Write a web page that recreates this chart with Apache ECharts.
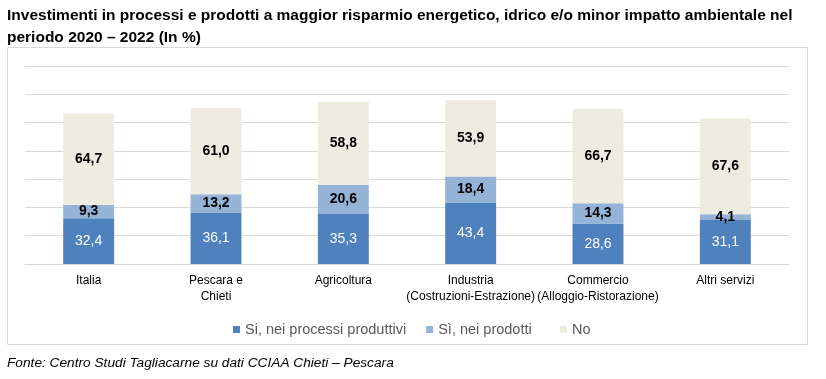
<!DOCTYPE html>
<html><head><meta charset="utf-8">
<script src="https://cdn.jsdelivr.net/npm/echarts@6/dist/echarts.min.js"></script>
<style>html,body{margin:0;padding:0;background:#fff}#c{width:826px;height:379px}</style>
</head><body><div id="c"></div>
<script>
const categories = ["Italia", "Pescara e\nChieti", "Agricoltura", "Industria\n(Costruzioni-Estrazione)", "Commercio\n(Alloggio-Ristorazione)", "Altri servizi"];
const seriesNames = ["Si, nei processi produttivi", "Sì, nei prodotti", "No"];
const processi = [32.4, 36.1, 35.3, 43.4, 28.6, 31.1];
const prodotti = [9.3, 13.2, 20.6, 18.4, 14.3, 4.1];
const no = [64.7, 61.0, 58.8, 53.9, 66.7, 67.6];
const colors = ["#4F81BD", "#95B3D7", "#EEECE1"];
const titleText = "Investimenti in processi e prodotti a maggior risparmio energetico, idrico e/o minor impatto ambientale nel\nperiodo 2020 – 2022 (In %)";
const sourceText = "Fonte: Centro Studi Tagliacarne su dati CCIAA Chieti – Pescara";

const FONT = "'Liberation Sans', sans-serif";
const fmt = p => p.value.toFixed(1).replace('.', ',');
function mk(name, data, color, labelColor, bold) {
  return {
    name, type: 'bar', stack: 'a', data, barWidth: '40%',
    itemStyle: { color },
    label: { show: true, position: 'inside', formatter: fmt, color: labelColor,
      fontSize: 14, fontWeight: bold ? 'bold' : 'normal', fontFamily: FONT }
  };
}
const legendBase = { top: 317, icon: 'rect', itemWidth: 7, itemHeight: 7, itemGap: 20,
  textStyle: { fontSize: 14.5, color: '#595959', fontFamily: FONT } };
const chart = echarts.init(document.getElementById('c'), null, { renderer: 'canvas' });
chart.setOption({
  animation: false,
  textStyle: { fontFamily: FONT },
  title: {
    text: titleText, left: 7, top: 5, padding: 0,
    textStyle: { fontSize: 15.5, fontWeight: 'bold', color: '#000', lineHeight: 22, fontFamily: FONT }
  },
  graphic: [
    { type: 'rect', shape: { x: 7.5, y: 47.5, width: 800, height: 297 },
      style: { fill: 'none', stroke: '#D9D9D9', lineWidth: 1 }, z: -1 },
    { type: 'text', left: 7, top: 356,
      style: { text: sourceText, fontSize: 13.7, fontStyle: 'italic', fill: '#000', fontFamily: FONT } }
  ],
  legend: [
    Object.assign({ data: seriesNames.slice(0, 2), left: 228 }, legendBase),
    Object.assign({ data: seriesNames.slice(2), left: 555 }, legendBase)
  ],
  grid: { left: 25, right: 37, top: 66, bottom: 115 },
  xAxis: {
    type: 'category', data: categories,
    axisLine: { lineStyle: { color: '#D9D9D9' } }, axisTick: { show: false },
    axisLabel: { color: '#000', fontSize: 12, lineHeight: 16, margin: 9, interval: 0, fontFamily: FONT }
  },
  yAxis: {
    type: 'value', min: 0, max: 140, interval: 20,
    axisLabel: { show: false }, axisLine: { show: false }, axisTick: { show: false },
    splitLine: { lineStyle: { color: '#D9D9D9' } }
  },
  series: [
    mk(seriesNames[0], processi, colors[0], '#fff', false),
    mk(seriesNames[1], prodotti, colors[1], '#000', true),
    mk(seriesNames[2], no, colors[2], '#000', true)
  ]
});
</script></body></html>
